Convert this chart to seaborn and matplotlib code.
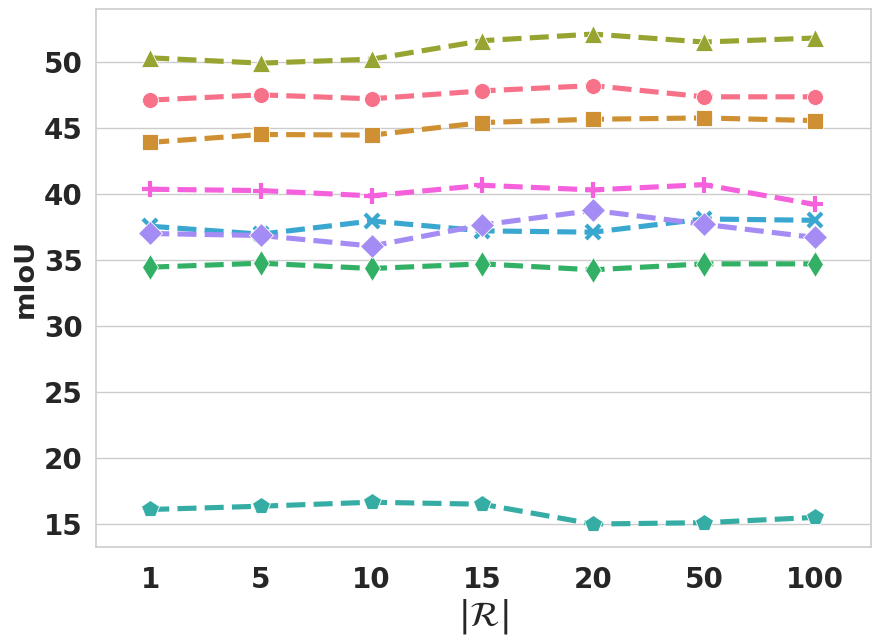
import matplotlib
matplotlib.use("Agg")
import matplotlib.pyplot as plt
import seaborn as sns
import pandas as pd

# ---- data ----
r_values = ["1", "5", "10", "15", "20", "50", "100"]
series_names = ["S1", "S2", "S3", "S4", "S5", "S6", "S7", "S8"]
s1 = [47.1, 47.5, 47.2, 47.8, 48.2, 47.35, 47.35]   # circle
s2 = [43.9, 44.5, 44.45, 45.4, 45.65, 45.75, 45.55]  # square
s3 = [50.3, 49.9, 50.2, 51.6, 52.1, 51.5, 51.8]      # triangle
s4 = [34.45, 34.75, 34.35, 34.7, 34.25, 34.7, 34.7]  # thin diamond
s5 = [16.1, 16.35, 16.65, 16.5, 15.0, 15.1, 15.5]    # pentagon
s6 = [37.55, 36.95, 37.95, 37.2, 37.1, 38.1, 38.0]   # x
s7 = [37.0, 36.85, 36.05, 37.65, 38.75, 37.7, 36.7]  # diamond
s8 = [40.35, 40.25, 39.85, 40.65, 40.3, 40.7, 39.2]  # plus
all_values = [s1, s2, s3, s4, s5, s6, s7, s8]
markers = ["o", "s", "^", "d", "p", "x", "D", "+"]
y_ticks = [15, 20, 25, 30, 35, 40, 45, 50]

sns.set_theme(style="whitegrid")
plt.rcParams["font.family"] = ["DejaVu Sans"]

palette = sns.color_palette("husl", 8)
sizes = {"o": 11.5, "s": 11.5, "^": 12.5, "d": 13.5, "p": 13, "x": 10, "D": 12, "+": 12}

fig, ax = plt.subplots(figsize=(8.8, 6.43), dpi=100)
fig.subplots_adjust(left=96/880, right=871/880, top=1-9/643, bottom=1-547/643)

for name, vals, mk, col in zip(series_names, all_values, markers, palette):
    df = pd.DataFrame({"R": r_values, "mIoU": vals})
    if mk in ("x", "+"):
        kw = dict(markeredgewidth=3.0, markeredgecolor=col)
    else:
        kw = dict(markeredgewidth=0.6, markeredgecolor="white")
    sns.lineplot(data=df, x="R", y="mIoU", ax=ax, color=col, marker=mk,
                 markersize=sizes[mk], linewidth=3.7, sort=False, **kw)
    ax.lines[-1].set_linestyle("--")

ax.set_xlim(-0.49, 6.51)
ax.set_ylim(13.26, 54.0)
ax.set_yticks(y_ticks)
ax.xaxis.grid(False)
for sp in ax.spines.values():
    sp.set_color("#cccccc")
    sp.set_linewidth(1.2)

ax.set_ylabel("mIoU", fontsize=19.5, fontweight="bold", labelpad=4)
ax.set_xlabel(r"$|\mathcal{R}|$", fontsize=25, labelpad=2)
ax.tick_params(axis="both", labelsize=20)
for t in ax.get_yticklabels() + ax.get_xticklabels():
    t.set_fontweight("bold")
ax.tick_params(axis="x", pad=8)

fig.savefig("out.png", dpi=100)
